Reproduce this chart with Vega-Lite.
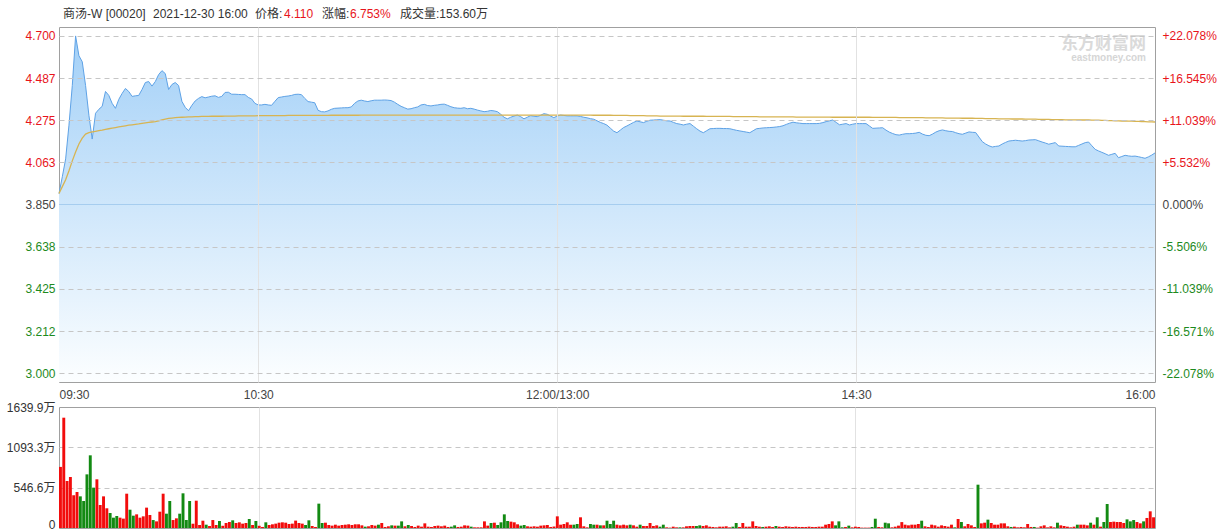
{
"$schema":"https://vega.github.io/schema/vega-lite/v6.json",
"background":"white",
"padding":{"left":5,"top":7,"right":0,"bottom":0},
"config":{"font":"Liberation Sans, Noto Sans CJK SC, sans-serif","view":{"stroke":"#a0a0a0"},"axis":{"labelFontSize":12,"labelColor":"#444444"}},
"spacing":25,
"bounds":"flush",
"datasets":{"m":[
{"t":0,"p":3.905,"a":3.905,"v":828,"c":"u"},{"t":1,"p":3.99,"a":3.94,"v":1495,"c":"u"},{"t":2,"p":4.08,"a":3.975,"v":637,"c":"u"},{"t":3,"p":4.25,"a":4.02,"v":691,"c":"u"},{"t":4,"p":4.45,"a":4.07,"v":443,"c":"u"},{"t":5,"p":4.7,"a":4.115,"v":488,"c":"u"},{"t":6,"p":4.6,"a":4.155,"v":429,"c":"d"},{"t":7,"p":4.57,"a":4.185,"v":366,"c":"d"},{"t":8,"p":4.45,"a":4.205,"v":727,"c":"d"},{"t":9,"p":4.3,"a":4.212,"v":985,"c":"d"},
{"t":10,"p":4.18,"a":4.216,"v":547,"c":"d"},{"t":11,"p":4.31,"a":4.219,"v":660,"c":"u"},{"t":12,"p":4.33,"a":4.222,"v":312,"c":"u"},{"t":13,"p":4.345,"a":4.225,"v":429,"c":"u"},{"t":14,"p":4.42,"a":4.229,"v":267,"c":"u"},{"t":15,"p":4.4,"a":4.232,"v":203,"c":"d"},{"t":16,"p":4.36,"a":4.235,"v":140,"c":"d"},{"t":17,"p":4.335,"a":4.238,"v":163,"c":"d"},{"t":18,"p":4.38,"a":4.241,"v":140,"c":"u"},{"t":19,"p":4.41,"a":4.244,"v":127,"c":"u"},
{"t":20,"p":4.435,"a":4.247,"v":465,"c":"u"},{"t":21,"p":4.42,"a":4.25,"v":248,"c":"d"},{"t":22,"p":4.395,"a":4.252,"v":167,"c":"d"},{"t":23,"p":4.398,"a":4.254,"v":185,"c":"u"},{"t":24,"p":4.4,"a":4.256,"v":140,"c":"u"},{"t":25,"p":4.43,"a":4.259,"v":158,"c":"u"},{"t":26,"p":4.465,"a":4.262,"v":276,"c":"u"},{"t":27,"p":4.47,"a":4.264,"v":176,"c":"u"},{"t":28,"p":4.447,"a":4.266,"v":108,"c":"d"},{"t":29,"p":4.47,"a":4.268,"v":90,"c":"u"},
{"t":30,"p":4.505,"a":4.272,"v":221,"c":"u"},{"t":31,"p":4.525,"a":4.277,"v":465,"c":"u"},{"t":32,"p":4.51,"a":4.281,"v":194,"c":"d"},{"t":33,"p":4.43,"a":4.284,"v":366,"c":"d"},{"t":34,"p":4.455,"a":4.286,"v":108,"c":"u"},{"t":35,"p":4.465,"a":4.288,"v":131,"c":"u"},{"t":36,"p":4.45,"a":4.289,"v":194,"c":"d"},{"t":37,"p":4.37,"a":4.29,"v":470,"c":"d"},{"t":38,"p":4.34,"a":4.291,"v":108,"c":"d"},{"t":39,"p":4.323,"a":4.292,"v":366,"c":"d"},
{"t":40,"p":4.35,"a":4.292,"v":58,"c":"u"},{"t":41,"p":4.372,"a":4.293,"v":370,"c":"u"},{"t":42,"p":4.385,"a":4.293,"v":41,"c":"u"},{"t":43,"p":4.394,"a":4.294,"v":99,"c":"u"},{"t":44,"p":4.388,"a":4.294,"v":45,"c":"d"},{"t":45,"p":4.392,"a":4.294,"v":27,"c":"u"},{"t":46,"p":4.396,"a":4.295,"v":108,"c":"u"},{"t":47,"p":4.398,"a":4.295,"v":41,"c":"u"},{"t":48,"p":4.39,"a":4.295,"v":95,"c":"d"},{"t":49,"p":4.395,"a":4.295,"v":30,"c":"u"},
{"t":50,"p":4.415,"a":4.296,"v":68,"c":"u"},{"t":51,"p":4.416,"a":4.296,"v":81,"c":"u"},{"t":52,"p":4.406,"a":4.296,"v":104,"c":"d"},{"t":53,"p":4.406,"a":4.296,"v":68,"c":"u"},{"t":54,"p":4.405,"a":4.297,"v":77,"c":"u"},{"t":55,"p":4.404,"a":4.297,"v":59,"c":"u"},{"t":56,"p":4.404,"a":4.297,"v":68,"c":"u"},{"t":57,"p":4.39,"a":4.297,"v":122,"c":"d"},{"t":58,"p":4.382,"a":4.297,"v":41,"c":"u"},{"t":59,"p":4.36,"a":4.297,"v":95,"c":"d"},
{"t":60,"p":4.352,"a":4.298,"v":30,"c":"u"},{"t":61,"p":4.352,"a":4.298,"v":14,"c":"u"},{"t":62,"p":4.355,"a":4.298,"v":77,"c":"d"},{"t":63,"p":4.352,"a":4.298,"v":41,"c":"u"},{"t":64,"p":4.35,"a":4.298,"v":50,"c":"u"},{"t":65,"p":4.37,"a":4.298,"v":59,"c":"u"},{"t":66,"p":4.389,"a":4.298,"v":72,"c":"u"},{"t":67,"p":4.392,"a":4.298,"v":77,"c":"u"},{"t":68,"p":4.395,"a":4.298,"v":72,"c":"u"},{"t":69,"p":4.397,"a":4.299,"v":54,"c":"u"},
{"t":70,"p":4.4,"a":4.299,"v":59,"c":"u"},{"t":71,"p":4.405,"a":4.299,"v":100,"c":"u"},{"t":72,"p":4.406,"a":4.299,"v":68,"c":"u"},{"t":73,"p":4.404,"a":4.299,"v":59,"c":"u"},{"t":74,"p":4.385,"a":4.299,"v":41,"c":"d"},{"t":75,"p":4.369,"a":4.299,"v":104,"c":"d"},{"t":76,"p":4.366,"a":4.299,"v":27,"c":"u"},{"t":77,"p":4.363,"a":4.299,"v":14,"c":"u"},{"t":78,"p":4.325,"a":4.299,"v":330,"c":"d"},{"t":79,"p":4.318,"a":4.299,"v":68,"c":"d"},
{"t":80,"p":4.317,"a":4.299,"v":72,"c":"u"},{"t":81,"p":4.322,"a":4.299,"v":41,"c":"u"},{"t":82,"p":4.33,"a":4.3,"v":32,"c":"u"},{"t":83,"p":4.335,"a":4.3,"v":45,"c":"u"},{"t":84,"p":4.336,"a":4.3,"v":32,"c":"u"},{"t":85,"p":4.337,"a":4.3,"v":41,"c":"u"},{"t":86,"p":4.338,"a":4.3,"v":45,"c":"u"},{"t":87,"p":4.338,"a":4.3,"v":50,"c":"u"},{"t":88,"p":4.342,"a":4.3,"v":41,"c":"u"},{"t":89,"p":4.36,"a":4.3,"v":50,"c":"u"},
{"t":90,"p":4.372,"a":4.3,"v":50,"c":"u"},{"t":91,"p":4.376,"a":4.301,"v":36,"c":"u"},{"t":92,"p":4.372,"a":4.301,"v":18,"c":"d"},{"t":93,"p":4.369,"a":4.301,"v":23,"c":"u"},{"t":94,"p":4.373,"a":4.301,"v":41,"c":"u"},{"t":95,"p":4.376,"a":4.301,"v":32,"c":"u"},{"t":96,"p":4.376,"a":4.301,"v":45,"c":"d"},{"t":97,"p":4.376,"a":4.301,"v":68,"c":"u"},{"t":98,"p":4.377,"a":4.301,"v":14,"c":"u"},{"t":99,"p":4.376,"a":4.301,"v":23,"c":"u"},
{"t":100,"p":4.374,"a":4.301,"v":36,"c":"d"},{"t":101,"p":4.366,"a":4.301,"v":32,"c":"u"},{"t":102,"p":4.355,"a":4.301,"v":32,"c":"d"},{"t":103,"p":4.345,"a":4.301,"v":90,"c":"d"},{"t":104,"p":4.338,"a":4.301,"v":23,"c":"u"},{"t":105,"p":4.331,"a":4.301,"v":41,"c":"d"},{"t":106,"p":4.333,"a":4.301,"v":27,"c":"u"},{"t":107,"p":4.338,"a":4.301,"v":14,"c":"u"},{"t":108,"p":4.342,"a":4.301,"v":32,"c":"u"},{"t":109,"p":4.352,"a":4.301,"v":18,"c":"u"},
{"t":110,"p":4.355,"a":4.301,"v":63,"c":"u"},{"t":111,"p":4.349,"a":4.301,"v":18,"c":"u"},{"t":112,"p":4.347,"a":4.301,"v":14,"c":"u"},{"t":113,"p":4.35,"a":4.301,"v":27,"c":"u"},{"t":114,"p":4.352,"a":4.301,"v":32,"c":"u"},{"t":115,"p":4.355,"a":4.301,"v":23,"c":"u"},{"t":116,"p":4.356,"a":4.301,"v":32,"c":"u"},{"t":117,"p":4.35,"a":4.301,"v":14,"c":"u"},{"t":118,"p":4.343,"a":4.301,"v":18,"c":"d"},{"t":119,"p":4.338,"a":4.301,"v":36,"c":"d"},
{"t":120,"p":4.336,"a":4.301,"v":14,"c":"u"},{"t":121,"p":4.335,"a":4.301,"v":18,"c":"u"},{"t":122,"p":4.338,"a":4.301,"v":36,"c":"u"},{"t":123,"p":4.333,"a":4.301,"v":32,"c":"u"},{"t":124,"p":4.335,"a":4.301,"v":18,"c":"d"},{"t":125,"p":4.331,"a":4.301,"v":9,"c":"u"},{"t":126,"p":4.326,"a":4.301,"v":9,"c":"u"},{"t":127,"p":4.322,"a":4.301,"v":9,"c":"u"},{"t":128,"p":4.318,"a":4.301,"v":90,"c":"u"},{"t":129,"p":4.32,"a":4.301,"v":32,"c":"u"},
{"t":130,"p":4.324,"a":4.301,"v":68,"c":"d"},{"t":131,"p":4.322,"a":4.301,"v":72,"c":"u"},{"t":132,"p":4.318,"a":4.301,"v":41,"c":"d"},{"t":133,"p":4.305,"a":4.301,"v":77,"c":"d"},{"t":134,"p":4.29,"a":4.301,"v":185,"c":"d"},{"t":135,"p":4.282,"a":4.301,"v":95,"c":"d"},{"t":136,"p":4.29,"a":4.301,"v":86,"c":"u"},{"t":137,"p":4.296,"a":4.301,"v":77,"c":"u"},{"t":138,"p":4.301,"a":4.301,"v":50,"c":"u"},{"t":139,"p":4.293,"a":4.301,"v":32,"c":"d"},
{"t":140,"p":4.282,"a":4.301,"v":41,"c":"d"},{"t":141,"p":4.29,"a":4.301,"v":23,"c":"u"},{"t":142,"p":4.298,"a":4.301,"v":18,"c":"u"},{"t":143,"p":4.295,"a":4.301,"v":23,"c":"u"},{"t":144,"p":4.293,"a":4.301,"v":18,"c":"u"},{"t":145,"p":4.3,"a":4.301,"v":32,"c":"u"},{"t":146,"p":4.308,"a":4.301,"v":36,"c":"u"},{"t":147,"p":4.305,"a":4.301,"v":41,"c":"u"},{"t":148,"p":4.296,"a":4.301,"v":14,"c":"u"},{"t":149,"p":4.288,"a":4.301,"v":20,"c":"u"},
{"t":150,"p":4.296,"a":4.301,"v":158,"c":"u"},{"t":151,"p":4.301,"a":4.301,"v":45,"c":"u"},{"t":152,"p":4.299,"a":4.301,"v":54,"c":"u"},{"t":153,"p":4.297,"a":4.301,"v":77,"c":"u"},{"t":154,"p":4.297,"a":4.301,"v":45,"c":"u"},{"t":155,"p":4.297,"a":4.301,"v":45,"c":"d"},{"t":156,"p":4.297,"a":4.301,"v":54,"c":"d"},{"t":157,"p":4.294,"a":4.301,"v":145,"c":"u"},{"t":158,"p":4.29,"a":4.301,"v":23,"c":"u"},{"t":159,"p":4.287,"a":4.301,"v":9,"c":"u"},
{"t":160,"p":4.283,"a":4.301,"v":54,"c":"d"},{"t":161,"p":4.28,"a":4.3,"v":45,"c":"d"},{"t":162,"p":4.272,"a":4.3,"v":45,"c":"u"},{"t":163,"p":4.264,"a":4.3,"v":36,"c":"d"},{"t":164,"p":4.258,"a":4.3,"v":36,"c":"u"},{"t":165,"p":4.25,"a":4.3,"v":99,"c":"d"},{"t":166,"p":4.235,"a":4.3,"v":54,"c":"d"},{"t":167,"p":4.22,"a":4.299,"v":99,"c":"d"},{"t":168,"p":4.212,"a":4.299,"v":45,"c":"u"},{"t":169,"p":4.225,"a":4.299,"v":36,"c":"u"},
{"t":170,"p":4.238,"a":4.299,"v":45,"c":"u"},{"t":171,"p":4.246,"a":4.299,"v":36,"c":"u"},{"t":172,"p":4.255,"a":4.298,"v":45,"c":"d"},{"t":173,"p":4.264,"a":4.298,"v":36,"c":"u"},{"t":174,"p":4.271,"a":4.298,"v":18,"c":"u"},{"t":175,"p":4.267,"a":4.298,"v":45,"c":"d"},{"t":176,"p":4.263,"a":4.298,"v":27,"c":"u"},{"t":177,"p":4.27,"a":4.297,"v":27,"c":"u"},{"t":178,"p":4.275,"a":4.297,"v":68,"c":"u"},{"t":179,"p":4.276,"a":4.297,"v":27,"c":"u"},
{"t":180,"p":4.277,"a":4.297,"v":36,"c":"u"},{"t":181,"p":4.278,"a":4.296,"v":18,"c":"d"},{"t":182,"p":4.275,"a":4.296,"v":45,"c":"d"},{"t":183,"p":4.272,"a":4.296,"v":9,"c":"u"},{"t":184,"p":4.271,"a":4.296,"v":5,"c":"u"},{"t":185,"p":4.264,"a":4.296,"v":18,"c":"u"},{"t":186,"p":4.258,"a":4.296,"v":9,"c":"u"},{"t":187,"p":4.255,"a":4.296,"v":9,"c":"d"},{"t":188,"p":4.251,"a":4.295,"v":9,"c":"u"},{"t":189,"p":4.255,"a":4.295,"v":23,"c":"u"},
{"t":190,"p":4.258,"a":4.295,"v":27,"c":"u"},{"t":191,"p":4.245,"a":4.295,"v":27,"c":"u"},{"t":192,"p":4.232,"a":4.295,"v":27,"c":"d"},{"t":193,"p":4.22,"a":4.295,"v":36,"c":"d"},{"t":194,"p":4.212,"a":4.295,"v":27,"c":"u"},{"t":195,"p":4.222,"a":4.294,"v":36,"c":"u"},{"t":196,"p":4.232,"a":4.294,"v":18,"c":"u"},{"t":197,"p":4.233,"a":4.294,"v":14,"c":"u"},{"t":198,"p":4.234,"a":4.294,"v":9,"c":"u"},{"t":199,"p":4.234,"a":4.294,"v":18,"c":"u"},
{"t":200,"p":4.233,"a":4.294,"v":18,"c":"u"},{"t":201,"p":4.233,"a":4.294,"v":23,"c":"u"},{"t":202,"p":4.232,"a":4.294,"v":9,"c":"u"},{"t":203,"p":4.228,"a":4.293,"v":18,"c":"d"},{"t":204,"p":4.224,"a":4.293,"v":68,"c":"d"},{"t":205,"p":4.221,"a":4.293,"v":14,"c":"u"},{"t":206,"p":4.218,"a":4.293,"v":68,"c":"u"},{"t":207,"p":4.215,"a":4.293,"v":18,"c":"u"},{"t":208,"p":4.212,"a":4.293,"v":18,"c":"u"},{"t":209,"p":4.222,"a":4.293,"v":90,"c":"u"},
{"t":210,"p":4.232,"a":4.293,"v":27,"c":"u"},{"t":211,"p":4.234,"a":4.292,"v":18,"c":"u"},{"t":212,"p":4.236,"a":4.292,"v":14,"c":"d"},{"t":213,"p":4.237,"a":4.292,"v":18,"c":"u"},{"t":214,"p":4.238,"a":4.292,"v":23,"c":"u"},{"t":215,"p":4.239,"a":4.292,"v":14,"c":"u"},{"t":216,"p":4.241,"a":4.292,"v":27,"c":"d"},{"t":217,"p":4.243,"a":4.292,"v":18,"c":"u"},{"t":218,"p":4.247,"a":4.292,"v":14,"c":"u"},{"t":219,"p":4.254,"a":4.292,"v":23,"c":"u"},
{"t":220,"p":4.26,"a":4.292,"v":18,"c":"u"},{"t":221,"p":4.265,"a":4.292,"v":14,"c":"u"},{"t":222,"p":4.262,"a":4.291,"v":18,"c":"u"},{"t":223,"p":4.26,"a":4.291,"v":14,"c":"u"},{"t":224,"p":4.258,"a":4.291,"v":14,"c":"u"},{"t":225,"p":4.258,"a":4.291,"v":14,"c":"u"},{"t":226,"p":4.258,"a":4.291,"v":18,"c":"u"},{"t":227,"p":4.258,"a":4.291,"v":14,"c":"u"},{"t":228,"p":4.258,"a":4.291,"v":14,"c":"u"},{"t":229,"p":4.259,"a":4.291,"v":18,"c":"u"},
{"t":230,"p":4.263,"a":4.291,"v":18,"c":"u"},{"t":231,"p":4.268,"a":4.291,"v":45,"c":"u"},{"t":232,"p":4.272,"a":4.291,"v":54,"c":"u"},{"t":233,"p":4.276,"a":4.29,"v":90,"c":"u"},{"t":234,"p":4.264,"a":4.29,"v":36,"c":"d"},{"t":235,"p":4.252,"a":4.29,"v":90,"c":"d"},{"t":236,"p":4.255,"a":4.29,"v":9,"c":"d"},{"t":237,"p":4.258,"a":4.29,"v":14,"c":"u"},{"t":238,"p":4.251,"a":4.29,"v":32,"c":"d"},{"t":239,"p":4.255,"a":4.29,"v":9,"c":"u"},
{"t":240,"p":4.258,"a":4.29,"v":18,"c":"u"},{"t":241,"p":4.258,"a":4.29,"v":14,"c":"u"},{"t":242,"p":4.258,"a":4.29,"v":5,"c":"u"},{"t":243,"p":4.258,"a":4.29,"v":5,"c":"u"},{"t":244,"p":4.246,"a":4.29,"v":5,"c":"u"},{"t":245,"p":4.234,"a":4.289,"v":14,"c":"d"},{"t":246,"p":4.235,"a":4.289,"v":126,"c":"d"},{"t":247,"p":4.236,"a":4.289,"v":14,"c":"u"},{"t":248,"p":4.237,"a":4.289,"v":9,"c":"u"},{"t":249,"p":4.225,"a":4.289,"v":72,"c":"d"},
{"t":250,"p":4.215,"a":4.289,"v":63,"c":"d"},{"t":251,"p":4.208,"a":4.289,"v":9,"c":"u"},{"t":252,"p":4.202,"a":4.289,"v":18,"c":"u"},{"t":253,"p":4.2,"a":4.288,"v":32,"c":"u"},{"t":254,"p":4.204,"a":4.288,"v":80,"c":"u"},{"t":255,"p":4.207,"a":4.288,"v":45,"c":"u"},{"t":256,"p":4.207,"a":4.288,"v":36,"c":"u"},{"t":257,"p":4.208,"a":4.288,"v":45,"c":"u"},{"t":258,"p":4.21,"a":4.288,"v":45,"c":"u"},{"t":259,"p":4.214,"a":4.288,"v":54,"c":"u"},
{"t":260,"p":4.205,"a":4.288,"v":99,"c":"d"},{"t":261,"p":4.199,"a":4.287,"v":23,"c":"u"},{"t":262,"p":4.197,"a":4.287,"v":14,"c":"u"},{"t":263,"p":4.205,"a":4.287,"v":45,"c":"u"},{"t":264,"p":4.215,"a":4.287,"v":36,"c":"u"},{"t":265,"p":4.222,"a":4.287,"v":18,"c":"u"},{"t":266,"p":4.226,"a":4.287,"v":36,"c":"u"},{"t":267,"p":4.222,"a":4.286,"v":27,"c":"u"},{"t":268,"p":4.219,"a":4.286,"v":18,"c":"u"},{"t":269,"p":4.218,"a":4.286,"v":45,"c":"u"},
{"t":270,"p":4.212,"a":4.286,"v":9,"c":"d"},{"t":271,"p":4.207,"a":4.286,"v":122,"c":"u"},{"t":272,"p":4.204,"a":4.285,"v":81,"c":"d"},{"t":273,"p":4.21,"a":4.285,"v":23,"c":"u"},{"t":274,"p":4.216,"a":4.285,"v":54,"c":"u"},{"t":275,"p":4.214,"a":4.285,"v":36,"c":"u"},{"t":276,"p":4.213,"a":4.284,"v":14,"c":"u"},{"t":277,"p":4.19,"a":4.284,"v":587,"c":"d"},{"t":278,"p":4.167,"a":4.284,"v":63,"c":"u"},{"t":279,"p":4.155,"a":4.283,"v":72,"c":"u"},
{"t":280,"p":4.146,"a":4.283,"v":113,"c":"d"},{"t":281,"p":4.14,"a":4.283,"v":68,"c":"u"},{"t":282,"p":4.143,"a":4.283,"v":45,"c":"u"},{"t":283,"p":4.145,"a":4.282,"v":45,"c":"u"},{"t":284,"p":4.155,"a":4.282,"v":63,"c":"u"},{"t":285,"p":4.163,"a":4.282,"v":63,"c":"u"},{"t":286,"p":4.17,"a":4.282,"v":23,"c":"u"},{"t":287,"p":4.172,"a":4.281,"v":14,"c":"d"},{"t":288,"p":4.174,"a":4.281,"v":18,"c":"u"},{"t":289,"p":4.172,"a":4.281,"v":9,"c":"u"},
{"t":290,"p":4.17,"a":4.281,"v":14,"c":"u"},{"t":291,"p":4.172,"a":4.28,"v":9,"c":"u"},{"t":292,"p":4.175,"a":4.28,"v":54,"c":"u"},{"t":293,"p":4.176,"a":4.28,"v":14,"c":"u"},{"t":294,"p":4.177,"a":4.28,"v":14,"c":"d"},{"t":295,"p":4.171,"a":4.279,"v":5,"c":"u"},{"t":296,"p":4.165,"a":4.279,"v":23,"c":"u"},{"t":297,"p":4.16,"a":4.279,"v":36,"c":"u"},{"t":298,"p":4.154,"a":4.279,"v":9,"c":"u"},{"t":299,"p":4.158,"a":4.278,"v":23,"c":"u"},
{"t":300,"p":4.162,"a":4.278,"v":9,"c":"u"},{"t":301,"p":4.145,"a":4.278,"v":72,"c":"d"},{"t":302,"p":4.144,"a":4.278,"v":36,"c":"u"},{"t":303,"p":4.143,"a":4.277,"v":27,"c":"u"},{"t":304,"p":4.142,"a":4.277,"v":18,"c":"u"},{"t":305,"p":4.141,"a":4.277,"v":9,"c":"u"},{"t":306,"p":4.141,"a":4.277,"v":18,"c":"u"},{"t":307,"p":4.148,"a":4.276,"v":45,"c":"d"},{"t":308,"p":4.155,"a":4.276,"v":45,"c":"u"},{"t":309,"p":4.162,"a":4.276,"v":45,"c":"u"},
{"t":310,"p":4.165,"a":4.276,"v":36,"c":"u"},{"t":311,"p":4.146,"a":4.275,"v":72,"c":"d"},{"t":312,"p":4.128,"a":4.275,"v":45,"c":"u"},{"t":313,"p":4.12,"a":4.275,"v":145,"c":"d"},{"t":314,"p":4.113,"a":4.274,"v":18,"c":"u"},{"t":315,"p":4.106,"a":4.274,"v":81,"c":"d"},{"t":316,"p":4.098,"a":4.273,"v":325,"c":"d"},{"t":317,"p":4.103,"a":4.273,"v":81,"c":"u"},{"t":318,"p":4.108,"a":4.272,"v":86,"c":"u"},{"t":319,"p":4.086,"a":4.272,"v":81,"c":"u"},
{"t":320,"p":4.092,"a":4.271,"v":81,"c":"u"},{"t":321,"p":4.098,"a":4.271,"v":68,"c":"u"},{"t":322,"p":4.095,"a":4.27,"v":117,"c":"d"},{"t":323,"p":4.093,"a":4.27,"v":90,"c":"d"},{"t":324,"p":4.094,"a":4.269,"v":108,"c":"d"},{"t":325,"p":4.091,"a":4.269,"v":81,"c":"u"},{"t":326,"p":4.087,"a":4.268,"v":63,"c":"u"},{"t":327,"p":4.083,"a":4.268,"v":90,"c":"d"},{"t":328,"p":4.09,"a":4.267,"v":136,"c":"u"},{"t":329,"p":4.099,"a":4.267,"v":226,"c":"u"},
{"t":330,"p":4.11,"a":4.266,"v":145,"c":"u"}
]},
"vconcat":[
{
"width":1096,"height":355,
"data":{"name":"m"},
"layer":[
{"mark":{"type":"area","line":false,"color":{"gradient":"linear","x1":0,"y1":0,"x2":0,"y2":1,"stops":[{"offset":0,"color":"#a3d0f7"},{"offset":1,"color":"#fcfeff"}]}},
 "encoding":{
  "x":{"field":"t","type":"quantitative","scale":{"domain":[0,330],"nice":false},
   "axis":{"values":[0,60,150,240,330],"labelExpr":"datum.value==0?'09:30':datum.value==60?'10:30':datum.value==150?'12:00/13:00':datum.value==240?'14:30':'16:00'","labelFlush":true,"domain":false,"ticks":false,"labelPadding":7,"title":null,"grid":true,"zindex":1,"gridColor":{"condition":{"test":"datum.value==0||datum.value==330","value":"rgba(0,0,0,0)"},"value":"#e2e2e2"},"labelColor":"#444444"}},
  "y":{"field":"p","type":"quantitative","scale":{"domain":[2.955,4.745],"zero":false,"nice":false},
   "axis":{"orient":"left","values":[3,3.212,3.425,3.638,3.85,4.063,4.275,4.487,4.7],"format":".3f","domain":false,"ticks":false,"labelPadding":4,"title":null,"grid":true,"zindex":1,"gridDash":[5,4],"gridColor":{"condition":{"test":"abs(datum.value-3.85)<0.001","value":"rgba(0,0,0,0)"},"value":"#c6c6c6"},
    "labelColor":{"condition":[{"test":"datum.value>3.851","value":"#e8141b"},{"test":"datum.value<3.849","value":"#1d8a1d"}],"value":"#444444"}}},
  "y2":{"datum":2.955}
 }},
{"data":{"values":[{}]},"mark":{"type":"rule","color":"#a6cdef","strokeWidth":1},
 "encoding":{"y":{"datum":3.85,"type":"quantitative","scale":{"domain":[2.955,4.745],"zero":false,"nice":false},"axis":null}}},
{"mark":{"type":"line","color":"#5ea2e6","strokeWidth":1},
 "encoding":{"x":{"field":"t","type":"quantitative"},"y":{"field":"p","type":"quantitative","scale":{"domain":[2.955,4.745],"zero":false,"nice":false},"axis":null}}},
{"mark":{"type":"line","color":"#d7b452","strokeWidth":1.3},
 "encoding":{"x":{"field":"t","type":"quantitative"},"y":{"field":"a","type":"quantitative","scale":{"domain":[2.955,4.745],"zero":false,"nice":false},
  "axis":{"orient":"right","values":[3,3.212,3.425,3.638,3.85,4.063,4.275,4.487,4.7],"labelExpr":"(datum.value>3.851?'+':datum.value<3.849?'-':'')+format(abs(datum.value-3.85)/3.85*100,'.3f')+'%'","domain":false,"ticks":false,"grid":false,"labelPadding":7,"title":null,
   "labelColor":{"condition":[{"test":"datum.value>3.851","value":"#e8141b"},{"test":"datum.value<3.849","value":"#1d8a1d"}],"value":"#444444"}}}}},
{"data":{"values":[{}]},"mark":{"type":"text","text":"商汤-W [00020]","align":"left","baseline":"middle","fontSize":12,"color":"#333333"},"encoding":{"x":{"value":4},"y":{"value":-13}}},
{"data":{"values":[{}]},"mark":{"type":"text","text":"2021-12-30 16:00","align":"left","baseline":"middle","fontSize":12,"color":"#333333"},"encoding":{"x":{"value":94},"y":{"value":-13}}},
{"data":{"values":[{}]},"mark":{"type":"text","text":"价格:","align":"left","baseline":"middle","fontSize":12,"color":"#333333"},"encoding":{"x":{"value":196},"y":{"value":-13}}},
{"data":{"values":[{}]},"mark":{"type":"text","text":"4.110","align":"left","baseline":"middle","fontSize":12,"color":"#e8141b"},"encoding":{"x":{"value":225},"y":{"value":-13}}},
{"data":{"values":[{}]},"mark":{"type":"text","text":"涨幅:","align":"left","baseline":"middle","fontSize":12,"color":"#333333"},"encoding":{"x":{"value":263},"y":{"value":-13}}},
{"data":{"values":[{}]},"mark":{"type":"text","text":"6.753%","align":"left","baseline":"middle","fontSize":12,"color":"#e8141b"},"encoding":{"x":{"value":291},"y":{"value":-13}}},
{"data":{"values":[{}]},"mark":{"type":"text","text":"成交量:153.60万","align":"left","baseline":"middle","fontSize":12,"color":"#333333"},"encoding":{"x":{"value":341},"y":{"value":-13}}},
{"data":{"values":[{}]},"mark":{"type":"text","text":"东方财富网","align":"right","baseline":"middle","fontSize":17,"fontWeight":"bold","color":"#dadada"},"encoding":{"x":{"value":1087},"y":{"value":17}}},
{"data":{"values":[{}]},"mark":{"type":"text","text":"eastmoney.com","align":"right","baseline":"middle","fontSize":10,"fontWeight":"bold","color":"#d6d6d6"},"encoding":{"x":{"value":1087},"y":{"value":31}}}
],
"resolve":{"axis":{"y":"independent"}}
},
{
"width":1096,"height":121,
"data":{"name":"m"},
"mark":{"type":"bar"},
"encoding":{
 "x":{"field":"t","type":"ordinal","scale":{"paddingInner":0.12,"paddingOuter":0},
  "axis":{"values":[60,150,240],"grid":true,"gridColor":"#e2e2e2","labels":false,"ticks":false,"domain":false,"title":null}},
 "y":{"field":"v","type":"quantitative","scale":{"domain":[0,1639.9],"nice":false},
  "axis":{"values":[0,546.6,1093.3,1639.9],"labelExpr":"datum.value==0?'0':format(datum.value,'.1f')+'万'","domain":false,"ticks":false,"labelPadding":4,"title":null,"grid":true,"gridDash":[5,4],"gridColor":{"condition":{"test":"datum.value<1||datum.value>1639","value":"rgba(0,0,0,0)"},"value":"#c6c6c6"},"labelColor":"#333333",
   "labelBaseline":{"condition":{"test":"datum.value==0","value":"alphabetic"},"value":"middle"}}},
 "color":{"field":"c","type":"nominal","scale":{"domain":["u","d"],"range":["#f20c0c","#138a13"]},"legend":null}
}
}
]
}
